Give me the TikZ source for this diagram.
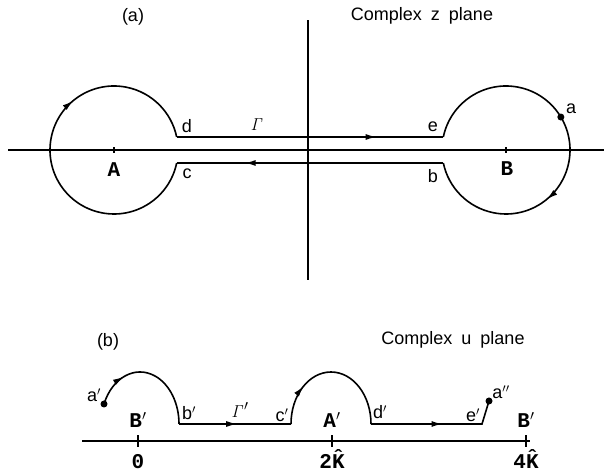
\documentclass[tikz,border=0pt]{standalone}
\usepackage[no-math]{fontspec}
\setmainfont{Liberation Sans}
\newfontfamily\markfont{Liberation Mono}
\usetikzlibrary{arrows.meta,calc,decorations.markings}
\tikzset{
  contour/.style={line width=1.6pt},
  axis/.style={line width=1.4pt},
  midarrow/.style={postaction={decorate},
    decoration={markings, mark=at position #1 with {\arrow{Latex[length=11pt,width=6pt]}}}},
  lbl/.style={font=\fontsize{18}{20}\selectfont, inner sep=0pt},
  ptlbl/.style={font=\fontsize{21}{23}\selectfont\markfont\bfseries, inner sep=0pt},
}
\newcommand{\khat}{\ooalign{K\cr\hidewidth\smash{\raisebox{0.2em}{\char"02C6}}\hidewidth\cr}}

\begin{document}
\begin{tikzpicture}[x=1pt, y=1pt]
  \useasboundingbox (0,0) rectangle (605,473);
  % Panel (a): complex z plane
  \node[lbl] (taga) at (133,456) {(a)};
  \node[lbl] (zplane) at (422,457) {Complex\enspace z\enspace plane};
  % Axes
  \coordinate (xl) at (8,323);
  \coordinate (xr) at (604,323);
  \coordinate (yt) at (308,453);
  \coordinate (yb) at (308,193);
  \draw[axis] (xl) -- (xr);
  \draw[axis] (yb) -- (yt);
  % Branch points
  \coordinate (A) at (114,323);
  \coordinate (B) at (506,323);
  \draw[axis] ($(A)+(0,-3)$) -- ($(A)+(0,3)$);
  \draw[axis] ($(B)+(0,-3)$) -- ($(B)+(0,3)$);
  \node[ptlbl] (labA) at (114,303) {A};
  \node[ptlbl] (labB) at (507,304) {B};
  % Contour Gamma
  \coordinate (d) at ($(A)+(11.72:64)$);
  \coordinate (c) at ($(A)+(-11.72:64)$);
  \coordinate (e) at ($(B)+(168.28:64)$);
  \coordinate (b) at ($(B)+(191.72:64)$);
  \draw[contour, midarrow=0.75] (d) -- (e);
  \draw[contour, midarrow=0.65] (e) arc[start angle=168.28, end angle=-168.28, radius=64];
  \draw[contour, midarrow=0.745] (b) -- (c);
  \draw[contour, midarrow=0.65] (c) arc[start angle=-11.72, end angle=-348.28, radius=64];
  \coordinate (a) at ($(B)+(31:64)$);
  \fill (a) circle (3.5pt);
  \node[lbl] (laba) at (571,364) {a};
  \node[lbl] (labd) at (187,347) {d};
  \node[lbl] (labc) at (187,299) {c};
  \node[lbl] (labe) at (433,346) {e};
  \node[lbl] (labb) at (433,297) {b};
  \node[font=\fontsize{19}{21}\selectfont, inner sep=0pt] (gam) at (257,348) {$\mathit{\Gamma}$};

  % Panel (b): complex u plane
  \node[lbl] (tagb) at (108,131) {(b)};
  \node[lbl] (uplane) at (453,133) {Complex\enspace u\enspace plane};
  % Real axis with ticks
  \coordinate (ul) at (82,32);
  \coordinate (ur) at (530,32);
  \draw[axis] (ul) -- (ur);
  \foreach \x/\nm/\val in {138/B$'$/0, 332/A$'$/2\khat, 526/B$'$/4\khat} {
    \draw[axis] (\x,26) -- (\x,38);
    \node[ptlbl] at (\x,53) {\nm};
    \node[ptlbl, anchor=base] at (\x,4) {\val};
  }
  % Image of the contour
  \coordinate (ap) at (104,69);
  \coordinate (bp) at (179,49);
  \coordinate (cp) at (291,49);
  \coordinate (dp) at (371,49);
  \coordinate (ep) at (482,49);
  \coordinate (app) at (489,72);
  \draw[contour, midarrow=0.28] (ap) arc[start angle=157.4, end angle=0, x radius=39, y radius=52];
  \draw[contour, midarrow=0.52] (bp) -- (cp);
  \draw[contour, midarrow=0.28] (cp) arc[start angle=180, end angle=0, x radius=40, y radius=52];
  \draw[contour, midarrow=0.53] (dp) -- (ep) -- (app);
  \fill (ap) circle (3.5pt);
  \fill (app) circle (3.5pt);
  \node[lbl] (labap) at (94,78) {a$'$};
  \node[lbl] (labbp) at (189,60) {b$'$};
  \node[font=\fontsize{19}{21}\selectfont, inner sep=0pt] (gamp) at (240,63) {$\mathit{\Gamma}'$};
  \node[lbl] (labcp) at (282,58) {c$'$};
  \node[lbl] (labdp) at (380,61) {d$'$};
  \node[lbl] (labep) at (473,58) {e$'$};
  \node[lbl] (labapp) at (501,81) {a$''$};
\end{tikzpicture}
\end{document}
